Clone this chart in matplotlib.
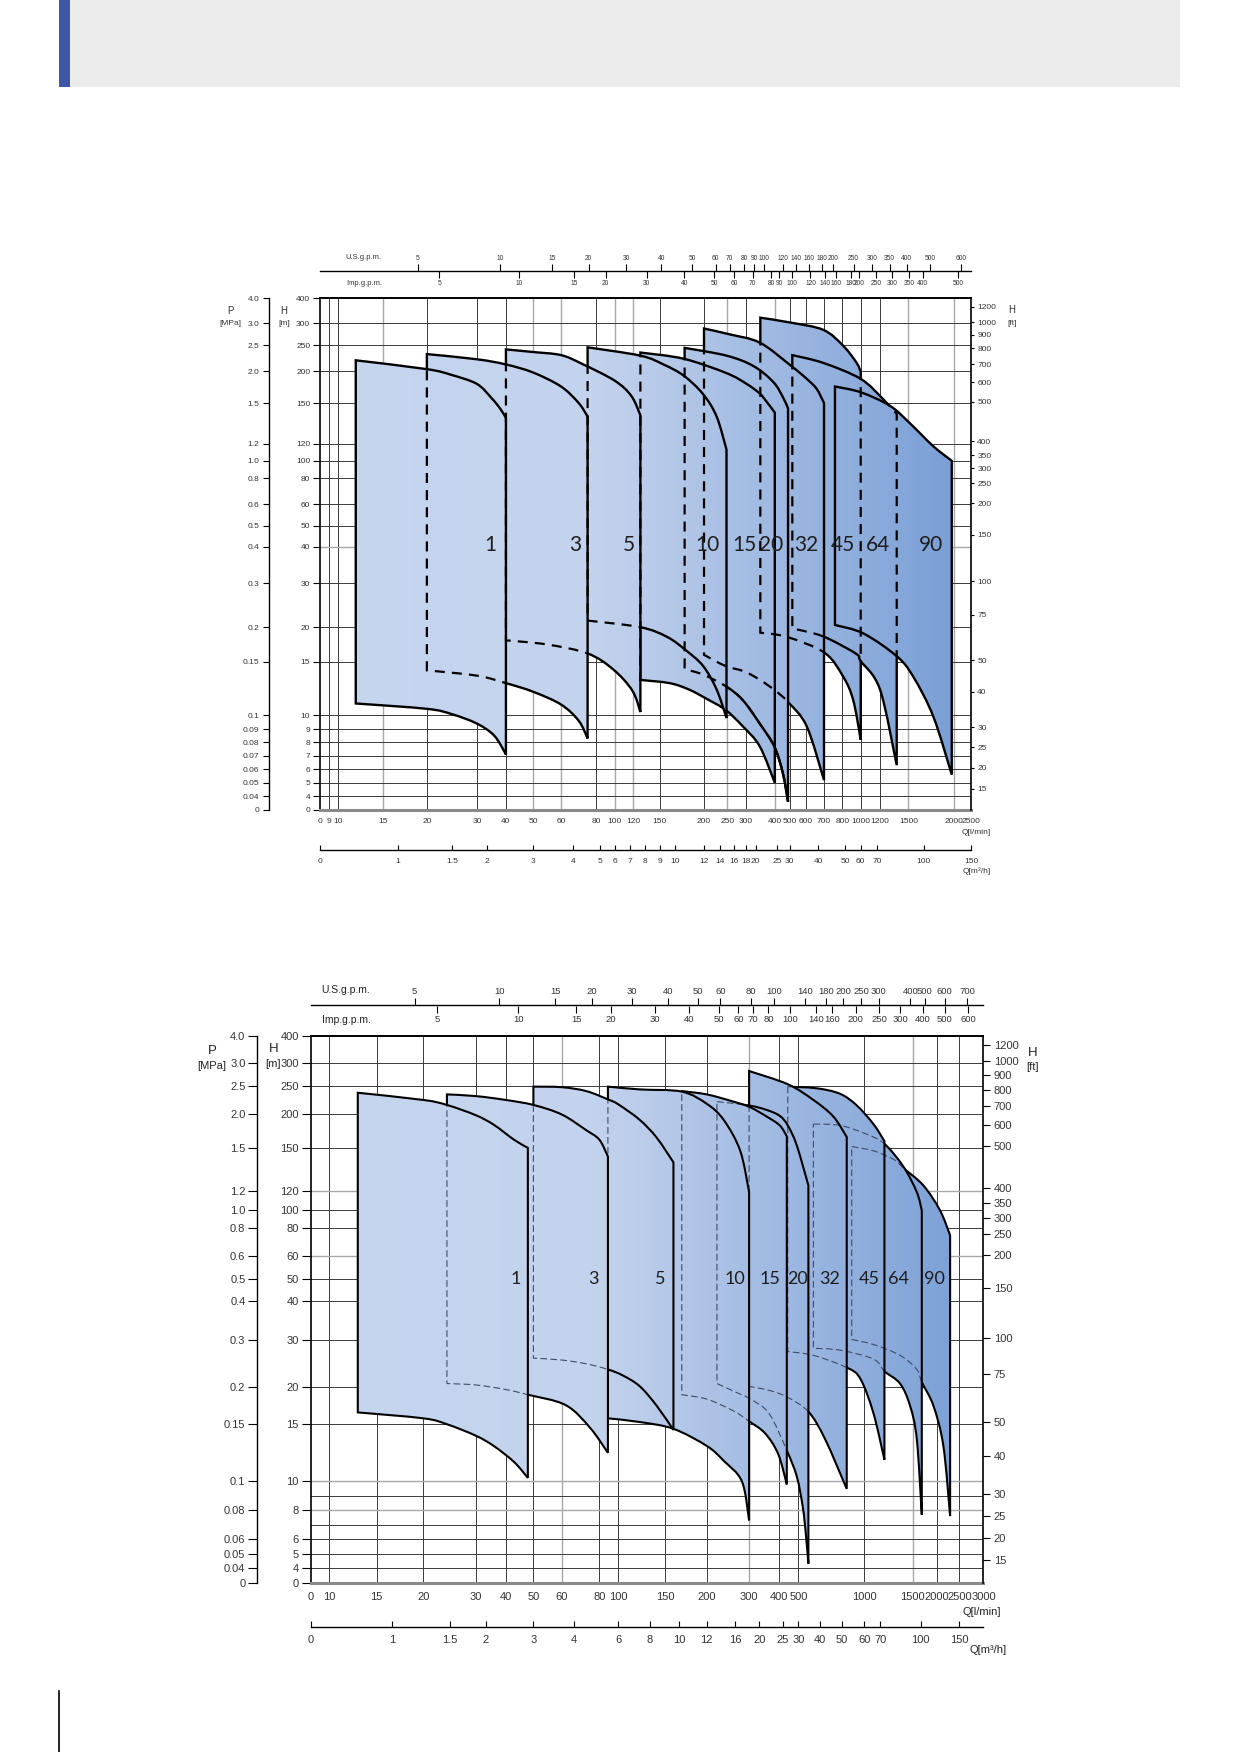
import numpy as np
import matplotlib
matplotlib.use("Agg")
import matplotlib.pyplot as plt
from matplotlib import font_manager
from matplotlib.colors import LinearSegmentedColormap
from matplotlib.patches import PathPatch, Rectangle
from matplotlib.path import Path
from matplotlib.lines import Line2D

plt.rcParams["font.family"] = ["Liberation Sans", "DejaVu Sans"]


def have_font(name):
    try:
        font_manager.findfont(name, fallback_to_default=False)
        return True
    except ValueError:
        return False


NARROW = (["Liberation Sans Narrow"] if have_font("Liberation Sans Narrow") else []) + ["Liberation Sans", "DejaVu Sans"]
REGULAR = ["Liberation Sans", "DejaVu Sans"]
DIGITS = ["Lato", "DejaVu Sans"]

# --- scales of the printed sheet (hand drawn grid, neither linear nor log) ---
H_GRID = [0, 4, 5, 6, 7, 8, 9, 10, 15, 20, 30, 40, 50, 60, 80, 100, 120, 150, 200, 250, 300, 400]
H_GRID_POS = [0, .027, .053, .0795, .106, .132, .1577, .185, .2895, .357, .443, .514, .5555,
              .597, .6475, .682, .7155, .7947, .857, .9077, .9507, 1]

Q1_GRID = [0, 9, 10, 15, 20, 30, 40, 50, 60, 80, 100, 120, 150, 200, 250, 300, 400, 500,
           600, 700, 800, 1000, 1200, 1500, 2000, 2500]
Q1_GRID_POS = [0, .0127, .0268, .0961, .1638, .2408, .2853, .3269, .37, .4244, .4527, .481,
               .522, .5897, .6257, .654, .6985, .7211, .7465, .7741, .8022, .8305, .8602,
               .9039, .9732, 1]

Q2_GRID = [0, 10, 15, 20, 30, 40, 50, 60, 80, 100, 150, 200, 300, 400, 500, 1000, 1500,
           2000, 2500, 3000]
Q2_GRID_POS = [0, .0277, .0981, .1674, .2453, .2899, .331, .3732, .4291, .4573, .5268, .5888,
               .6517, .6967, .725, .8226, .895, .9307, .9643, 1]

# the gpm scales are hand drawn as well
TOP_US_GPM = [0, 5, 10, 15, 20, 30, 40, 50, 60, 70, 80, 90, 100, 120, 140, 160, 180, 200, 250,
              300, 350, 400, 500, 600, 660.4]
TOP_US_POS = [0, .1499, .2763, .3559, .4122, .47, .5238, .5714, .6074, .6292, .6511, .6667,
              .6823, .7111, .7307, .7509, .7705, .7883, .8197, .8477, .8751, .9009, .9367,
              .9851, 1]
TOP_IMP_GPM = [0, 5, 10, 15, 20, 30, 40, 50, 60, 70, 80, 90, 100, 120, 140, 160, 180, 200, 250,
               300, 350, 400, 500, 549.9]
TOP_IMP_POS = [0, .1827, .306, .3904, .4388, .5019, .5597, .6058, .6355, .6643, .6931, .7057,
               .7244, .7533, .7751, .7931, .8149, .8283, .854, .8789, .9048, .9257, .9805, 1]
BOT_US_GPM = [0, 5, 10, 15, 20, 30, 40, 50, 60, 80, 100, 140, 180, 200, 250, 300, 400, 500,
              600, 700, 792.5]
BOT_US_POS = [0, .1543, .2804, .3634, .4182, .4779, .531, .5758, .609, .6538, .6887, .7351,
              .7667, .7916, .8181, .8447, .8912, .9127, .9426, .9758, 1]
BOT_IMP_GPM = [0, 5, 10, 15, 20, 30, 40, 50, 60, 70, 80, 100, 140, 160, 200, 250, 300, 400,
               500, 600, 659.9]
BOT_IMP_POS = [0, .1875, .3087, .395, .4464, .5112, .5626, .6074, .6356, .6572, .6804, .712,
               .7518, .775, .8099, .8447, .8763, .9095, .9426, .9774, 1]

LPM_PER_M3H = 1000 / 60
M_PER_FT = 0.3048

FT_TICKS = [15, 20, 25, 30, 40, 50, 75, 100, 150, 200, 250, 300, 350, 400, 500, 600, 700,
            800, 900, 1000, 1200]

# --- upper chart ---
TOP_H_TICKS = [0, 4, 5, 6, 7, 8, 9, 10, 15, 20, 30, 40, 50, 60, 80, 100, 120, 150, 200, 250, 300, 400]
TOP_P_TICKS = [0, .04, .05, .06, .07, .08, .09, .1, .15, .2, .3, .4, .5, .6, .8, 1.0, 1.2, 1.5,
               2.0, 2.5, 3.0, 4.0]
TOP_M3H = [0, 1, 1.5, 2, 3, 4, 5, 6, 7, 8, 9, 10, 12, 14, 16, 18, 20, 25, 30, 40, 50, 60, 70,
           100, 150]

TOP_NAMES = ["1", "3", "5", "10", "15", "20", "32", "45", "64", "90"]
# max-stage curve (Q l/min, H m), left to right
TOP_UPPER = [
    [(12, 221), (20, 204), (25, 194), (30, 180), (35, 158), (38, 146), (40, 139)],
    [(20, 233), (30, 223), (40, 213), (50, 198), (60, 176), (70, 150), (75, 140)],
    [(40, 242), (50, 237), (60, 231), (72, 214), (100, 185), (118, 161), (128, 141)],
    [(75, 246), (128, 230), (154, 213), (177, 193), (199, 164), (227, 140), (248, 113)],
    [(128, 236), (177, 224), (248, 197), (303, 180), (348, 165), (372, 152), (400, 143)],
    [(178, 245), (248, 230), (326, 210), (395, 183), (458, 158), (490, 146)],
    [(200, 288), (255, 275), (348, 256), (503, 212), (604, 188), (660, 172), (700, 150)],
    [(350, 322), (503, 303), (696, 285), (810, 249), (956, 216), (1000, 199)],
    [(517, 231), (696, 216), (1000, 188), (1234, 156), (1376, 142)],
    [(760, 176), (1000, 167), (1305, 148), (1517, 135), (1775, 117), (1980, 100)],
]
# min-stage curve
TOP_LOWER = [
    [(12, 11.1), (20, 10.6), (25, 10.1), (30, 9.4), (36, 8.5), (40, 7.1)],
    [(20, 14.2), (30, 13.7), (40, 13.0), (50, 12.2), (60, 11.0), (70, 9.6), (75, 8.3)],
    [(40, 18.1), (55, 17.5), (75, 16.2), (98, 14.3), (119, 12.3), (128, 10.3)],
    [(75, 21.5), (128, 20.0), (158, 18.6), (179, 16.7), (199, 14.6), (227, 12.4), (248, 9.8)],
    [(128, 13.3), (161, 13.0), (183, 12.4), (207, 11.5), (246, 10.5), (292, 9.2), (348, 7.7), (400, 5.0)],
    [(178, 14.3), (199, 13.8), (247, 12.7), (292, 11.4), (348, 9.4), (398, 7.7), (455, 5.7), (490, 2.4)],
    [(200, 16.0), (246, 14.6), (303, 14.0), (387, 12.6), (492, 11.2), (604, 9.2), (700, 5.2)],
    [(350, 19.2), (481, 18.6), (703, 16.3), (810, 13.6), (919, 11.4), (1000, 8.2)],
    [(517, 19.8), (644, 19.1), (735, 18.2), (956, 16.1), (1000, 15.1), (1200, 12.4), (1376, 6.3)],
    [(760, 20.5), (1027, 19.1), (1376, 15.8), (1553, 13.6), (1776, 9.9), (1980, 5.6)],
]
TOP_STACK = ["1", "3", "5", "10", "15", "20", "32", "90", "64", "45"]   # front first
TOP_SOLID_FROM = {"20": 247}   # min curve of 20 drawn solid past the edge of 10

# --- lower chart ---
BOT_H_TICKS = [0, 4, 5, 6, 8, 10, 15, 20, 30, 40, 50, 60, 80, 100, 120, 150, 200, 250, 300, 400]
BOT_P_TICKS = [0, .04, .05, .06, .08, .1, .15, .2, .3, .4, .5, .6, .8, 1.0, 1.2, 1.5, 2.0, 2.5,
               3.0, 4.0]
BOT_M3H = [0, 1, 1.5, 2, 3, 4, 6, 8, 10, 12, 16, 20, 25, 30, 40, 50, 60, 70, 100, 150]

BOT_NAMES = ["1", "3", "5", "10", "15", "20", "32", "45", "64", "90"]
BOT_UPPER = [
    [(13, 238), (20, 225), (24.5, 216), (30, 198), (36, 184), (43, 162), (48, 150)],
    [(24.5, 235), (30, 232), (40, 225), (50, 216), (60, 199), (73, 176), (80, 162), (89, 144)],
    [(50, 249), (60, 248), (73, 241), (89, 226), (100, 217), (123, 191), (141, 165), (160, 140)],
    [(89, 249), (123, 244), (170, 240), (200, 218), (240, 191), (279, 148), (300, 119)],
    [(170, 241), (200, 235), (263, 222), (303, 212), (358, 196), (402, 183), (439, 167)],
    [(224, 222), (300, 215), (358, 207), (402, 197), (444, 183), (491, 154), (576, 124)],
    [(300, 282), (444, 254), (614, 225), (766, 196), (868, 166)],
    [(444, 249), (640, 246), (818, 236), (945, 215), (1096, 185), (1209, 160)],
    [(614, 185), (818, 183), (1028, 170), (1209, 156), (1404, 137), (1584, 119), (1688, 99)],
    [(906, 152), (1096, 148), (1305, 142), (1404, 136), (1721, 124), (2073, 99), (2295, 75)],
]
BOT_LOWER = [
    [(13, 16.6), (20, 15.8), (24.5, 15), (30, 14), (36, 13.1), (43, 11.7), (48, 10.3)],
    [(24.5, 20.8), (30, 20.5), (40, 19.7), (48, 19), (62, 17.6), (75, 14.7), (89, 12.5)],
    [(50, 26.2), (60, 25.8), (73, 25), (89, 23.8), (105, 22.5), (123, 20.2), (141, 17.5), (160, 14.5)],
    [(89, 15.8), (123, 15.3), (160, 14.6), (200, 13.1), (240, 11.8), (283, 10), (300, 7.3)],
    [(170, 19), (200, 18.4), (263, 16.8), (300, 15.4), (353, 14.2), (396, 12.4), (439, 9.8)],
    [(224, 20.8), (274, 19.2), (300, 18.5), (365, 16.5), (439, 12.7), (492, 10.4), (534, 8.2),
     (555, 6.5), (576, 4.3)],
    [(300, 20.2), (365, 19.6), (439, 18.7), (576, 16.7), (703, 13.7), (868, 9.5)],
    [(444, 27.6), (614, 26.8), (868, 24.2), (972, 21.8), (1096, 16.5), (1209, 11.9)],
    [(614, 28.3), (818, 27.9), (1096, 26), (1209, 23.4), (1369, 20.8), (1472, 17.5), (1584, 13.7),
     (1688, 7.7)],
    [(906, 30.2), (1096, 29.1), (1369, 26.8), (1584, 23.8), (1688, 21.1), (1930, 17.5), (2146, 13.1),
     (2295, 7.6)],
]
BOT_STACK = ["1", "3", "5", "10", "15", "20", "32", "45", "64", "90"]


def interp_funcs(vals, pos):
    vals = np.asarray(vals, float)
    pos = np.asarray(pos, float)
    return (lambda v: np.interp(v, vals, pos), lambda p: np.interp(p, pos, vals))


def fmt(v):
    return f"{v:g}"


def p_fmt(v):
    return f"{v:.1f}" if v >= 1 else f"{v:g}"


FILL = LinearSegmentedColormap.from_list(
    "pump", [(0, "#c7d6ef"), (0.42, "#c4d3ed"), (1.0, "#779dd5")])
GRAD = np.linspace(0, 1, 600).reshape(1, -1)


def bezier(points, qs, hs):
    # smooth curve through the read points (Catmull-Rom as cubic Bezier),
    # built on the sheet's own scales so it bends like the printed one
    P = np.column_stack([qs[0](np.array([p[0] for p in points], float)),
                         hs[0](np.array([p[1] for p in points], float))])
    n = len(P)
    verts = [P[0]]
    for i in range(n - 1):
        p0, p1 = P[max(i - 1, 0)], P[i]
        p2, p3 = P[i + 1], P[min(i + 2, n - 1)]
        verts += [p1 + (p2 - p0) / 6, p2 - (p3 - p1) / 6, p2]
    verts = np.array(verts)
    return np.column_stack([qs[1](verts[:, 0]), hs[1](verts[:, 1])])


def region_path(up, lo, qs, hs):
    uv = bezier(up, qs, hs)
    lv = bezier(lo[::-1], qs, hs)
    verts = np.vstack([uv, lv, uv[:1]])
    codes = ([Path.MOVETO] + [Path.CURVE4] * (len(uv) - 1) + [Path.LINETO]
             + [Path.CURVE4] * (len(lv) - 1) + [Path.CLOSEPOLY])
    return Path(verts, codes)


def strip(fig, left, y, width, qs, q_max):
    a = fig.add_axes([left, y, width, 1e-4])
    a.set_xscale("function", functions=qs)
    a.set_xlim(0, q_max)
    a.set_ylim(0, 1)
    a.set_yticks([])
    a.patch.set_visible(False)
    for s in a.spines.values():
        s.set_visible(False)
    return a


def pump_chart(fig, rect, p_x, gpm_y, m3h_y, q_grid, q_pos, h_ticks, p_ticks, us_scale,
               imp_scale, m3h_vals, names, upper, lower, stack, label_off, label_h,
               light_q, light_h, st, solid_from=None):
    qs = interp_funcs(q_grid, q_pos)
    hs = interp_funcs(H_GRID, H_GRID_POS)
    q_max = q_grid[-1]
    left, bottom, width, height = rect
    fam, fs = st["family"], st["fs"]

    ax = fig.add_axes(rect)
    ax.set_xscale("function", functions=qs)
    ax.set_yscale("function", functions=hs)

    # grid
    for q in q_grid[1:-1]:
        light = q in light_q
        ax.axvline(q, color="#a8a8a8" if light else "#3a3a3a", lw=1.0 if light else 0.7, zorder=0.5)
    for h in H_GRID[1:-1]:
        light = h in light_h
        ax.axhline(h, color="#a8a8a8" if light else "#3a3a3a", lw=1.0 if light else 0.7, zorder=0.5)

    # operating ranges
    paths, shapes = {}, {}
    for name, up, lo in zip(names, upper, lower):
        paths[name] = region_path(up, lo, qs, hs)
        shapes[name] = PathPatch(paths[name], transform=ax.transData)
    n = len(stack)
    for k, name in enumerate(stack):
        z = 10 + 3 * (n - k)
        im = ax.imshow(GRAD, cmap=FILL, extent=(0, 1, 0, 1), transform=ax.transAxes,
                       aspect="auto", interpolation="bilinear", zorder=z)
        im.set_clip_path(shapes[name])
        ax.add_patch(PathPatch(paths[name], facecolor="none", edgecolor="black", lw=st["lw"],
                               joinstyle="miter", zorder=z + 1))
        for back in stack[k + 1:]:
            pp = ax.add_patch(PathPatch(paths[back], facecolor="none", edgecolor=st["dash_color"],
                                        lw=st["dash_lw"], linestyle=(0, st["dashes"]),
                                        zorder=z + 0.5))
            pp.set_clip_path(shapes[name])
    if solid_from:
        for name, q0 in solid_from.items():
            lo = lower[names.index(name)]
            i0 = [p[0] for p in lo].index(q0)
            v = bezier(lo, qs, hs)[3 * i0:]
            seg = Path(v, [Path.MOVETO] + [Path.CURVE4] * (len(v) - 1))
            ax.add_patch(PathPatch(seg, facecolor="none", edgecolor="black", lw=st["lw"],
                                   zorder=150))
    for name, up, off in zip(names, upper, label_off):
        ax.annotate(name, xy=(up[-1][0], label_h), xytext=(-off, 0), textcoords="offset points",
                    ha="right", va="center", fontsize=st["label_fs"], family=DIGITS,
                    color="#1e1e1e", zorder=300)

    # axes: Q l/min and H m
    ax.set_xticks(q_grid, labels=[fmt(q) for q in q_grid], fontsize=fs, fontfamily=fam, color="#333333")
    ax.tick_params(axis="x", length=0, pad=st["q_pad"])
    ax.set_yticks(h_ticks, labels=[fmt(h) for h in h_ticks], fontsize=fs, fontfamily=fam, color="#333333")
    ax.tick_params(axis="y", direction="out", length=st["h_len"], width=0.8, pad=st["h_pad"])
    ax.spines["right"].set_visible(False)
    ax.spines["top"].set_linewidth(1.4)
    ax.spines["left"].set_linewidth(1.2)
    ax.spines["bottom"].set_color("#8a8a8a")
    ax.spines["bottom"].set_linewidth(2.2)

    # H in ft on the right
    axf = ax.twinx()
    axf.set_yscale("function", functions=hs)
    axf.set_yticks(np.array(FT_TICKS) * M_PER_FT, labels=[fmt(v) for v in FT_TICKS],
                   fontsize=fs, fontfamily=fam, color="#333333")
    axf.tick_params(axis="y", direction="out", length=st["ft_len"], width=0.8, pad=st["ft_pad"])
    for s in ["left", "top", "bottom"]:
        axf.spines[s].set_visible(False)
    axf.spines["right"].set_linewidth(1.2)

    # P in MPa on the far left
    axp = fig.add_axes([p_x, bottom, 1e-4, height])
    axp.set_yscale("function", functions=hs)
    axp.set_xticks([])
    axp.patch.set_visible(False)
    for s in ["right", "top", "bottom"]:
        axp.spines[s].set_visible(False)
    axp.spines["left"].set_linewidth(1.0)
    axp.set_yticks(np.array(p_ticks) * 100, labels=[p_fmt(v) for v in p_ticks],
                   fontsize=fs, fontfamily=fam, color="#333333")
    axp.tick_params(axis="y", direction="out", length=st["p_len"], width=0.8, pad=st["p_pad"])

    # gpm scales on top
    us_vals, us_pos = us_scale
    us = strip(fig, left, gpm_y, width, interp_funcs(us_vals, us_pos), us_vals[-1])
    us.spines["top"].set_visible(True)
    us.spines["top"].set_linewidth(1.0)
    us.xaxis.set_ticks_position("top")
    us.set_xticks(us_vals[1:-1], labels=[fmt(v) for v in us_vals[1:-1]],
                  fontsize=st["g_fs"], fontfamily=fam, color="#333333")
    us.tick_params(axis="x", direction="out", length=st["g_len"], width=0.8, pad=st["g_pad"])
    imp_vals, imp_pos = imp_scale
    imp = strip(fig, left, gpm_y, width, interp_funcs(imp_vals, imp_pos), imp_vals[-1])
    imp.xaxis.set_ticks_position("bottom")
    imp.set_xticks(imp_vals[1:-1], labels=[fmt(v) for v in imp_vals[1:-1]],
                   fontsize=st["g_fs"], fontfamily=fam, color="#333333")
    imp.tick_params(axis="x", direction="out", length=st["g_len"], width=0.8, pad=st["g_pad"])

    # m3/h scale below
    m3 = strip(fig, left, m3h_y, width, qs, q_max)
    m3.spines["bottom"].set_visible(True)
    m3.spines["bottom"].set_linewidth(1.0)
    m3.set_xticks(np.array(m3h_vals) * LPM_PER_M3H, labels=[fmt(v) for v in m3h_vals],
                  fontsize=fs, fontfamily=fam, color="#333333")
    m3.tick_params(axis="x", direction="in", length=st["m_len"], width=0.8, pad=st["m_pad"])

    for a in (ax, axf, axp):
        a.set_ylim(0, 400)
    ax.set_xlim(0, q_max)
    return ax


fig = plt.figure(figsize=(12.39, 17.52), dpi=100)

# page header and margin line
fig.add_artist(Rectangle((0.0476, 0.9503), 0.9048, 0.0497, transform=fig.transFigure,
                         facecolor="#ebebeb", edgecolor="none"))
fig.add_artist(Rectangle((0.0476, 0.9503), 0.0089, 0.0497, transform=fig.transFigure,
                         facecolor="#3d56a6", edgecolor="none"))
fig.add_artist(Line2D([0.0476, 0.0476], [0, 0.0348], transform=fig.transFigure,
                      color="black", lw=1.2))

top_style = dict(family=NARROW, fs=6, g_fs=4.8, lw=1.7, dash_color="black", dash_lw=1.6,
                 dashes=(4.5, 3.2), label_fs=15, q_pad=5.5, h_len=5, h_pad=2.2, ft_len=2.5,
                 ft_pad=2, p_len=4.3, p_pad=3, g_len=5, g_pad=1.4, m_len=3.6, m_pad=5.8)
pump_chart(fig, [0.2585, 0.5377, 0.5252, 0.2922], 0.2174, 0.8455, 0.5148,
           Q1_GRID, Q1_GRID_POS, TOP_H_TICKS, TOP_P_TICKS, (TOP_US_GPM, TOP_US_POS),
           (TOP_IMP_GPM, TOP_IMP_POS), TOP_M3H,
           TOP_NAMES, TOP_UPPER, TOP_LOWER, TOP_STACK,
           [6.8, 4.3, 3.6, 5, 13, 3.2, 4.3, 4.3, 5, 6.5], 41,
           [15, 50, 60, 100, 120, 250, 400, 1500, 2000], [40], top_style, TOP_SOLID_FROM)

bot_style = dict(family=REGULAR, fs=8, g_fs=6.8, lw=1.5, dash_color="#3e4c66", dash_lw=0.8,
                 dashes=(6, 3), label_fs=13, q_pad=7, h_len=6.5, h_pad=2, ft_len=4.8, ft_pad=2.7,
                 p_len=6.5, p_pad=1.8, g_len=5, g_pad=1.5, m_len=4.3, m_pad=5.8)
pump_chart(fig, [0.2508, 0.0967, 0.5429, 0.3122], 0.2074, 0.4260, 0.0714,
           Q2_GRID, Q2_GRID_POS, BOT_H_TICKS, BOT_P_TICKS, (BOT_US_GPM, BOT_US_POS),
           (BOT_IMP_GPM, BOT_IMP_POS), BOT_M3H,
           BOT_NAMES, BOT_UPPER, BOT_LOWER, BOT_STACK,
           [5, 6.5, 5.8, 2.9, 4.8, 0, 5, 3.6, 9.4, 3.6], 50,
           [60, 300, 1500], [8, 10, 60, 120], bot_style)

# axis titles, upper chart
t = dict(fontfamily=NARROW, color="#333333", ha="center", va="center")
fig.text(0.2936, 0.8533, "U.S.g.p.m.", fontsize=5.5, **t)
fig.text(0.2936, 0.8383, "Imp.g.p.m.", fontsize=5.5, **t)
fig.text(0.1862, 0.8227, "P", fontsize=7, **t)
fig.text(0.1862, 0.8155, "[MPa]", fontsize=6, **t)
fig.text(0.2292, 0.8227, "H", fontsize=7, **t)
fig.text(0.2292, 0.8155, "[m]", fontsize=6, **t)
fig.text(0.8168, 0.8231, "H", fontsize=7, **t)
fig.text(0.8168, 0.8152, "[ft]", fontsize=6, **t)
fig.text(0.7877, 0.5251, "Q[l/min]", fontsize=6, **t)
fig.text(0.7880, 0.5025, "Q[m³/h]", fontsize=6, **t)

# axis titles, lower chart
t = dict(fontfamily=REGULAR, color="#222222", ha="center", va="center")
fig.text(0.2793, 0.4349, "U.S.g.p.m.", fontsize=7.5, **t)
fig.text(0.2793, 0.4178, "Imp.g.p.m.", fontsize=7.5, **t)
fig.text(0.1711, 0.4001, "P", fontsize=9.5, **t)
fig.text(0.1711, 0.3916, "[MPa]", fontsize=8, **t)
fig.text(0.2207, 0.4013, "H", fontsize=9.5, **t)
fig.text(0.2207, 0.3929, "[m]", fontsize=8, **t)
fig.text(0.8332, 0.3992, "H", fontsize=9.5, **t)
fig.text(0.8332, 0.3910, "[ft]", fontsize=8, **t)
fig.text(0.7926, 0.0801, "Q[l/min]", fontsize=8, **t)
fig.text(0.7972, 0.0585, "Q[m³/h]", fontsize=8, **t)

fig.savefig("out.png", dpi=100)
